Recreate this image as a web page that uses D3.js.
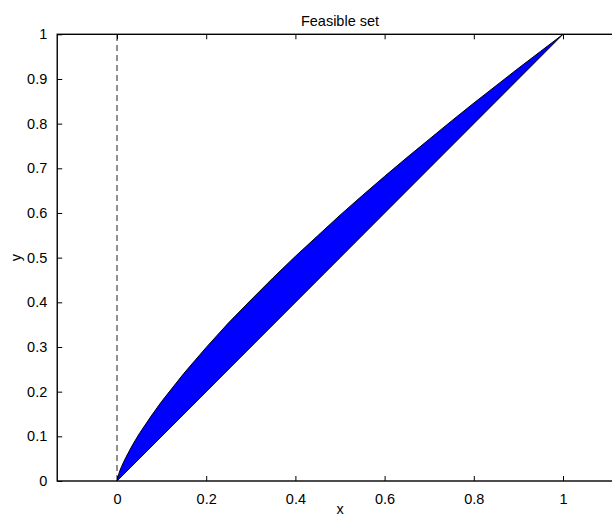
<!DOCTYPE html>
<html>
<head>
<meta charset="utf-8">
<script src="https://cdn.jsdelivr.net/npm/d3@7"></script>
<style>
  html, body { margin: 0; padding: 0; background: #fff; }
  text { font-family: "Liberation Sans", Arial, Helvetica, sans-serif; fill: #000; }
</style>
</head>
<body>
<svg id="chart"></svg>
<script>
const WIDTH = 612;
const HEIGHT = 516;

// upper boundary of the feasible set
const upperX = [0, 0.005, 0.01, 0.02, 0.035, 0.05, 0.075, 0.1, 0.15, 0.2, 0.25, 0.3, 0.35, 0.4, 0.45, 0.5,
  0.55, 0.6, 0.65, 0.7, 0.75, 0.8, 0.85, 0.9, 0.95, 1];
const upperY = [0, 0.019, 0.032, 0.053, 0.081, 0.106, 0.143, 0.178, 0.241, 0.299, 0.354, 0.405, 0.455, 0.503, 0.549, 0.595,
  0.639, 0.682, 0.724, 0.765, 0.806, 0.846, 0.885, 0.924, 0.962, 1];
// lower boundary
const lowerX = [0, 0.5, 1];
const lowerY = [0, 0.5, 1];
// dashed reference line x = 0
const refX = [0, 0];
const refY = [0, 1];

const xTicks = [0, 0.2, 0.4, 0.6, 0.8, 1];
const xTickLabels = ['0', '0.2', '0.4', '0.6', '0.8', '1'];
const yTicks = [0, 0.1, 0.2, 0.3, 0.4, 0.5, 0.6, 0.7, 0.8, 0.9, 1];
const yTickLabels = ['0', '0.1', '0.2', '0.3', '0.4', '0.5', '0.6', '0.7', '0.8', '0.9', '1'];
const xLim = [-0.134, 1.134];
const yLim = [0, 1];

const xScale = d3.scaleLinear().domain([0, 1]).range([117, 563]);
const yScale = d3.scaleLinear().domain([0, 1]).range([481, 34.3]);

const svg = d3.select('#chart')
  .attr('width', WIDTH)
  .attr('height', HEIGHT);

svg.append('rect').attr('width', WIDTH).attr('height', HEIGHT).attr('fill', '#fff');

const boxLeft = xScale(xLim[0]);
const boxRight = xScale(xLim[1]);
const boxTop = yScale(yLim[1]);
const boxBottom = yScale(yLim[0]);

// dashed line
const line = d3.line().x(d => xScale(d[0])).y(d => yScale(d[1]));
svg.append('path')
  .attr('d', line(refX.map((x, i) => [x, refY[i]])))
  .attr('fill', 'none')
  .attr('stroke', '#222')
  .attr('stroke-width', 1)
  .attr('stroke-dasharray', '6,4');

// feasible region
const polyPts = upperX.map((x, i) => [x, upperY[i]])
  .concat(lowerX.map((x, i) => [x, lowerY[i]]).reverse());
svg.append('path')
  .attr('d', line(polyPts) + 'Z')
  .attr('fill', '#0000ff')
  .attr('stroke', '#000')
  .attr('stroke-width', 1);

// axes with inward ticks
const fmtX = (d, i) => xTickLabels[i];
const fmtY = (d, i) => yTickLabels[i];

const xAxis = svg.append('g')
  .attr('transform', `translate(0, ${boxBottom})`)
  .call(d3.axisBottom(xScale).tickValues(xTicks).tickFormat(fmtX).tickSizeInner(-5).tickSizeOuter(0).tickPadding(13));
const xAxisTop = svg.append('g')
  .attr('transform', `translate(0, ${boxTop})`)
  .call(d3.axisTop(xScale).tickValues(xTicks).tickFormat('').tickSizeInner(-5).tickSizeOuter(0));
const yAxis = svg.append('g')
  .attr('transform', `translate(${boxLeft}, 0)`)
  .call(d3.axisLeft(yScale).tickValues(yTicks).tickFormat(fmtY).tickSizeInner(-5).tickSizeOuter(0).tickPadding(10));
const yAxisRight = svg.append('g')
  .attr('transform', `translate(${boxRight}, 0)`)
  .call(d3.axisRight(yScale).tickValues(yTicks).tickFormat('').tickSizeInner(-5).tickSizeOuter(0));

[xAxis, xAxisTop, yAxis, yAxisRight].forEach(g => {
  g.select('.domain').remove();
  g.selectAll('.tick line').attr('stroke', '#000').attr('stroke-width', 1);
  g.selectAll('.tick text').attr('font-size', 14.5).attr('font-family', '"Liberation Sans", Arial, sans-serif');
});

// box
svg.append('rect')
  .attr('x', boxLeft)
  .attr('y', boxTop)
  .attr('width', boxRight - boxLeft)
  .attr('height', boxBottom - boxTop)
  .attr('fill', 'none')
  .attr('stroke', '#000')
  .attr('stroke-width', 1.4);

svg.append('text')
  .attr('x', xScale(0.5))
  .attr('y', 26)
  .attr('text-anchor', 'middle')
  .attr('font-size', 14.5)
  .text('Feasible set');

svg.append('text')
  .attr('x', xScale(0.5))
  .attr('y', 514)
  .attr('text-anchor', 'middle')
  .attr('font-size', 14.5)
  .text('x');

svg.append('text')
  .attr('transform', `translate(21, ${yScale(0.5)}) rotate(-90)`)
  .attr('text-anchor', 'middle')
  .attr('font-size', 14.5)
  .text('y');
</script>
</body>
</html>
